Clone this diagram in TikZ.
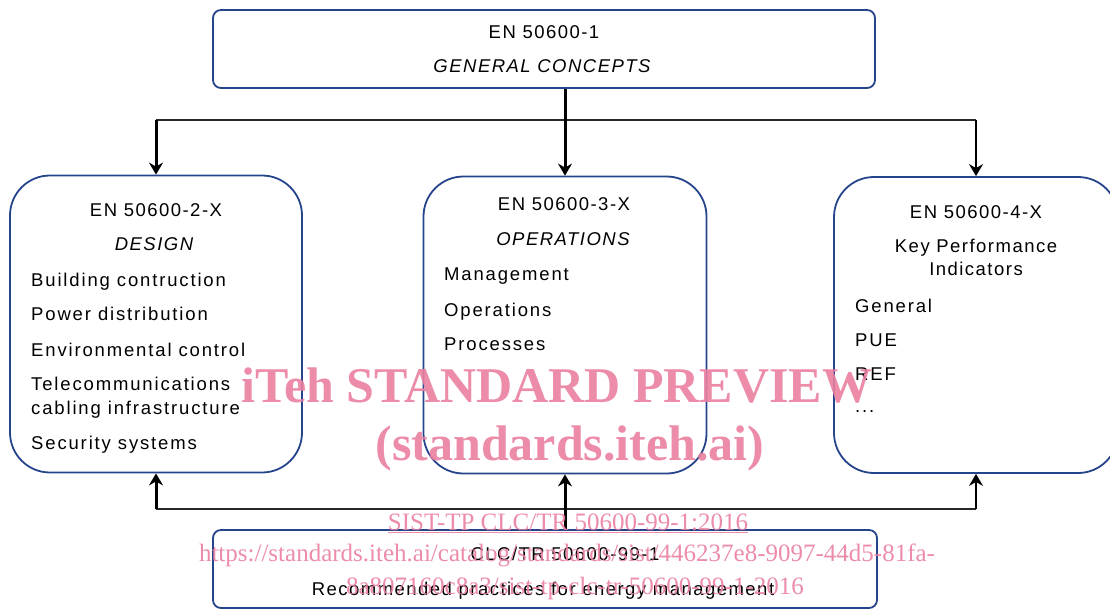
\documentclass[tikz,border=0pt]{standalone}
\usepackage{fontspec}
\setmainfont{Liberation Sans}
\newfontfamily\wmfont{Liberation Serif}
\usetikzlibrary{arrows.meta}
\definecolor{boxblue}{RGB}{38,68,140}
\definecolor{wmpink}{RGB}{234,128,160}
\definecolor{bargray}{RGB}{40,40,40}

\begin{document}
\begin{tikzpicture}[x=1pt,y=-1pt,
  frame/.style={draw=boxblue, line width=1.8pt, inner sep=0pt, fill=white},
  flatbox/.style={frame, rounded corners=8pt},
  roundbox/.style={frame, rounded corners=40pt},
  txt/.style={inner sep=0pt, anchor=base,
    font={\fontsize{18.5}{22}\selectfont\addfontfeature{LetterSpace=8}}},
  ital/.style={txt, font={\fontsize{18.5}{22}\selectfont\itshape\addfontfeature{LetterSpace=8}}},
  item/.style={txt, anchor=base west,
    font={\fontsize{18.5}{22}\selectfont\addfontfeature{LetterSpace=10}}},
  bar/.style={draw=bargray, line width=2pt},
  arr/.style={-{Stealth[length=12pt,width=14pt,inset=4pt]}, draw=black},
  wm/.style={inner sep=0pt, anchor=base, text=wmpink, text opacity=0.9},
  wmbig/.style={wm, font={\wmfont\bfseries\fontsize{50}{50}\selectfont}},
  wmsmall/.style={wm, font={\wmfont\fontsize{25}{25}\selectfont}}
]
\useasboundingbox (0,0) rectangle (1110,610);
\clip (0,0) rectangle (1110,610);

% boxes
\node[flatbox, minimum width=662pt, minimum height=78pt] (top) at (544,49) {};
\node[roundbox, minimum width=292pt, minimum height=297pt] (lbox) at (156,324) {};
\node[roundbox, minimum width=283pt, minimum height=297pt] (mbox) at (565,325) {};
\node[roundbox, minimum width=284pt, minimum height=296pt] (rbox) at (976,325) {};
\node[flatbox, minimum width=664pt, minimum height=78pt] (bot) at (545,569) {};

% distribution bars
\coordinate (tbar) at (0,120);
\coordinate (bbar) at (0,509);
\draw[bar] (lbox.north |- tbar) -- (rbox.north |- tbar);
\draw[bar, line width=2.5pt] (lbox.south |- bbar) -- (rbox.south |- bbar);

% arrows from the general concepts
\draw[arr, line width=3pt] (lbox.north |- tbar) -- (lbox.north);
\draw[arr, line width=3pt] (top.south -| mbox.north) -- (mbox.north);
\draw[arr, line width=1.6pt] (rbox.north |- tbar) -- (rbox.north);

% arrows from the energy management report
\draw[arr, line width=3pt] (lbox.south |- bbar) -- (lbox.south);
\draw[arr, line width=3pt] (bot.north -| mbox.south) -- (mbox.south);
\draw[arr, line width=1.6pt] (rbox.south |- bbar) -- (rbox.south);

% top box text
\node[txt] (t1) at (544,39) {EN 50600-1};
\node[ital] (t2) at (542,73) {GENERAL CONCEPTS};

% design box text
\node[txt] (l1) at (156,216) {EN 50600-2-X};
\node[ital] (l2) at (154,250) {DESIGN};
\node[item] (l3) at (31,286) {Building contruction};
\node[item] (l4) at (31,320) {Power distribution};
\node[item] (l5) at (31,356) {Environmental control};
\node[item] (l6) at (31,390) {Telecommunications};
\node[item] (l7) at (31,414) {cabling infrastructure};
\node[item] (l8) at (31,449) {Security systems};

% operations box text
\node[txt] (m1) at (564,210) {EN 50600-3-X};
\node[ital] (m2) at (563,245) {OPERATIONS};
\node[item] (m3) at (444,280) {Management};
\node[item] (m4) at (444,316) {Operations};
\node[item] (m5) at (444,350) {Processes};

% KPI box text
\node[txt] (r1) at (976,218) {EN 50600-4-X};
\node[txt] (r2) at (976,252) {Key Performance};
\node[txt] (r3) at (976,275) {Indicators};
\node[item] (r4) at (855,312) {General};
\node[item] (r5) at (855,346) {PUE};
\node[item] (r6) at (855,380) {REF};
\node[item] (r7) at (855,412) {...};

% bottom box text
\node[txt] (b1) at (565,560) {CLC/TR 50600-99-1};
\node[txt] (b2) at (543,595) {Recommended practices for energy management};

% watermark
\node[wmbig] (w1) at (557,402) {iTeh STANDARD PREVIEW};
\node[wmbig] (w2) at (570,460) {(standards.iteh.ai)};
\node[wmsmall] (w3) at (568,530) {\underline{SIST-TP CLC/TR 50600-99-1:2016}};
\node[wmsmall] (w4) at (567,561) {https://standards.iteh.ai/catalog/standards/sist/446237e8-9097-44d5-81fa-};
\node[wmsmall] (w5) at (575,594) {8a807160c8a3/sist-tp-clc-tr-50600-99-1-2016};
\end{tikzpicture}
\end{document}
